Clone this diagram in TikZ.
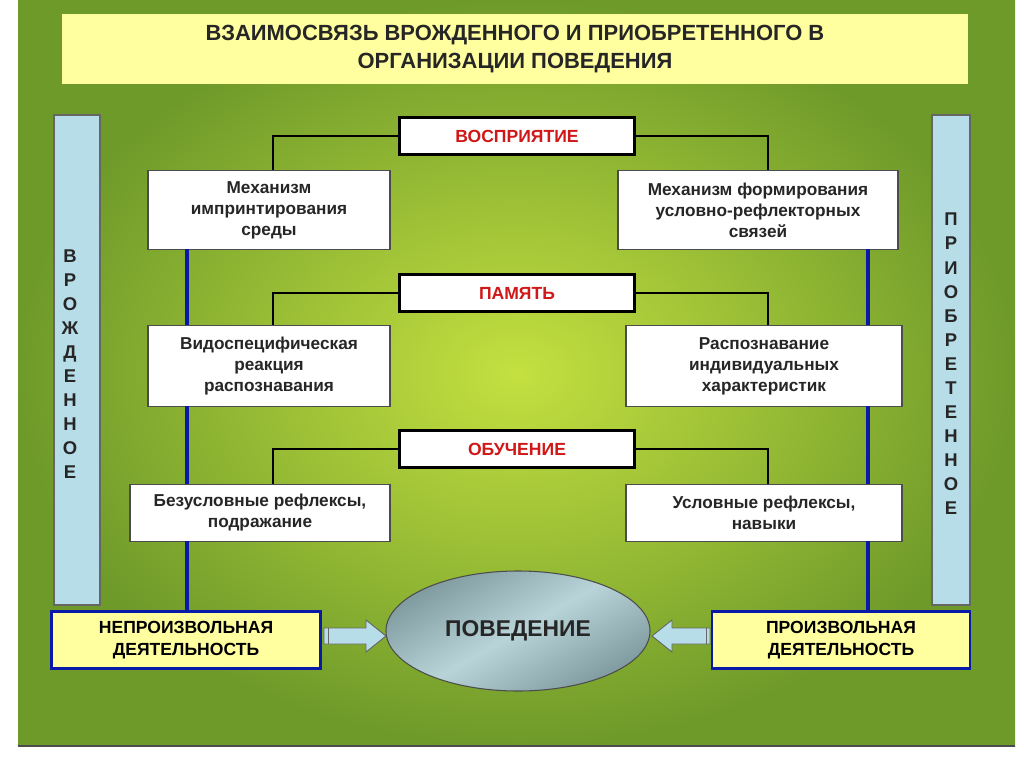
\documentclass[tikz,border=0pt]{standalone}
\usepackage{fontspec}
\setmainfont{Liberation Sans}
\definecolor{bgout}{HTML}{6E9A2A}
\definecolor{bgin}{HTML}{C4E040}
\definecolor{ttl}{HTML}{FFFFA0}
\definecolor{barblue}{HTML}{B7DDE8}
\definecolor{lineblue}{HTML}{0A1AA8}
\definecolor{redtxt}{HTML}{D01818}
\definecolor{ellA}{HTML}{7F9A9E}
\definecolor{ellB}{HTML}{B8D4D8}
\begin{document}
\begin{tikzpicture}[x=0.02cm,y=-0.02cm,
  box/.style={draw=black!70,line width=0.6pt,fill=white,align=center,font=\bfseries\fontsize{9.8}{12}\selectfont,text=black!85,inner sep=0},
  catbox/.style={draw=black,line width=1.2pt,fill=white,font=\bfseries\fontsize{10}{11}\selectfont,text=redtxt,inner sep=0},
  bar/.style={draw=black!60,line width=0.6pt,fill=barblue,inner sep=0},
  actbox/.style={draw=lineblue,line width=1.2pt,fill=ttl,align=center,font=\bfseries\fontsize{10}{12.5}\selectfont,inner sep=0},
  conn/.style={black,line width=1pt},
  bconn/.style={lineblue,line width=2pt},
  fat/.style={draw=black!60,fill=barblue,line width=0.5pt}]
\useasboundingbox (0,0) rectangle (1024,767);
\fill[white] (0,0) rectangle (1024,767);
\shade[inner color=bgin,outer color=bgout] (18,0) rectangle (1015,746);
\draw[black!70,line width=0.8pt] (18,746) -- (1015,746);
% title
\node[fill=ttl,minimum width=906*0.02cm,minimum height=70*0.02cm,align=center,font=\bfseries\fontsize{12.5}{16}\selectfont,text=black!85,inner sep=0] (title) at (515,49) {ВЗАИМОСВЯЗЬ ВРОЖДЕННОГО И ПРИОБРЕТЕННОГО В\\ОРГАНИЗАЦИИ ПОВЕДЕНИЯ};
% bars
\node[bar,minimum width=46*0.02cm,minimum height=490*0.02cm] (lbar) at (77,360) {};
\node[bar,minimum width=38*0.02cm,minimum height=490*0.02cm] (rbar) at (951,360) {};
\node[align=center,font=\bfseries\fontsize{10.5}{13.7}\selectfont,text=black!85] (ltxt) at (70,364) {В\\Р\\О\\Ж\\Д\\Е\\Н\\Н\\О\\Е};
\node[align=center,font=\bfseries\fontsize{10.5}{13.7}\selectfont,text=black!85] (rtxt) at (951,364) {П\\Р\\И\\О\\Б\\Р\\Е\\Т\\Е\\Н\\Н\\О\\Е};
% categories
\node[catbox,minimum width=235*0.02cm,minimum height=37*0.02cm] (c1) at (517,136) {ВОСПРИЯТИЕ};
\node[catbox,minimum width=235*0.02cm,minimum height=37*0.02cm] (c2) at (517,293) {ПАМЯТЬ};
\node[catbox,minimum width=235*0.02cm,minimum height=37*0.02cm] (c3) at (517,449) {ОБУЧЕНИЕ};
% boxes
\node[box,minimum width=242*0.02cm,minimum height=79*0.02cm] (l1) at (269,210) {Механизм\\импринтирования\\среды};
\node[box,minimum width=280*0.02cm,minimum height=79*0.02cm] (r1) at (758,210) {Механизм формирования\\условно-рефлекторных\\связей};
\node[box,minimum width=242*0.02cm,minimum height=81*0.02cm] (l2) at (269,366) {Видоспецифическая\\реакция\\распознавания};
\node[box,minimum width=276*0.02cm,minimum height=81*0.02cm] (r2) at (764,366) {Распознавание\\индивидуальных\\характеристик};
\node[box,minimum width=260*0.02cm,minimum height=57*0.02cm] (l3) at (260,513) {Безусловные рефлексы,\\подражание};
\node[box,minimum width=276*0.02cm,minimum height=57*0.02cm] (r3) at (764,513) {Условные рефлексы,\\навыки};
% activity boxes
\node[actbox,minimum width=269*0.02cm,minimum height=57*0.02cm] (la) at (186,640) {НЕПРОИЗВОЛЬНАЯ\\ДЕЯТЕЛЬНОСТЬ};
\node[actbox,minimum width=258*0.02cm,minimum height=57*0.02cm] (ra) at (841,640) {ПРОИЗВОЛЬНАЯ\\ДЕЯТЕЛЬНОСТЬ};
% ellipse
\shade[left color=ellA,right color=ellA,middle color=ellB,shading angle=30,draw=black!70,line width=0.6pt] (518,631) ellipse [x radius=132, y radius=60];
\node[font=\bfseries\fontsize{13}{15}\selectfont,text=black!85] (beh) at (518,631) {ПОВЕДЕНИЕ};
% connectors
\draw[conn] (c1.west) -| (273,170);
\draw[conn] (c1.east) -| (768,170);
\draw[conn] (c2.west) -| (273,325);
\draw[conn] (c2.east) -| (768,325);
\draw[conn] (c3.west) -| (273,484);
\draw[conn] (c3.east) -| (768,484);
\draw[bconn] (187,249) -- (187,325) (187,406) -- (187,484) (187,541) -- (187,611);
\draw[bconn] (868,249) -- (868,325) (868,406) -- (868,484) (868,541) -- (868,611);
% fat arrows
\draw[fat] (324,628) -- (366,628) -- (366,620) -- (386,636) -- (366,652) -- (366,644) -- (324,644) -- cycle;
\draw[fat] (710,628) -- (672,628) -- (672,620) -- (652,636) -- (672,652) -- (672,644) -- (710,644) -- cycle;
\draw[black!60,line width=0.5pt] (328,628) -- (328,644) (706,628) -- (706,644);
\end{tikzpicture}
\end{document}
